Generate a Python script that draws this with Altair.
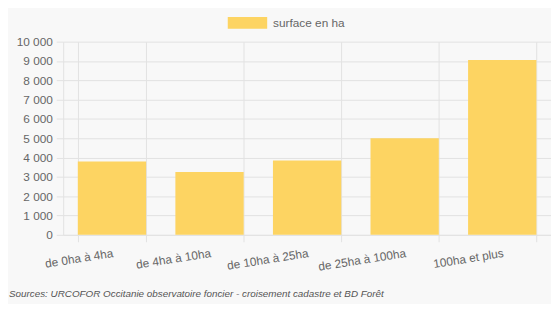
import altair as alt
import pandas as pd

categories = ["de 0ha à 4ha", "de 4ha à 10ha", "de 10ha à 25ha", "de 25ha à 100ha", "100ha et plus"]
surface = [3800, 3250, 3850, 5000, 9050]
series_name = "surface en ha"
source_text = ["Sources: URCOFOR Occitanie observatoire foncier - croisement cadastre et BD Forêt"]
y_ticks = list(range(0, 10001, 1000))

BAR = "#FDD462"
GRID = "#e2e2e2"
TXT = "#666666"
FONT = "Liberation Sans"

df = pd.DataFrame({"categorie": categories, "surface": surface, "serie": [series_name] * len(categories)})
src = pd.DataFrame({"t": source_text})

bars = alt.Chart(df).mark_bar(opacity=1).encode(
    x=alt.X(
        "categorie:N",
        sort=categories,
        scale=alt.Scale(paddingInner=0.3, paddingOuter=0.15),
        axis=alt.Axis(
            title=None, labelAngle=-9, labelAlign="right", labelBaseline="top",
            tickBand="extent", grid=True, gridColor=GRID, tickColor=GRID, tickSize=7,
            domainColor=GRID, labelPadding=6, labelFontSize=12, labelColor=TXT, labelFont=FONT,
        ),
    ),
    y=alt.Y(
        "surface:Q",
        scale=alt.Scale(domain=[0, 10000], nice=False),
        axis=alt.Axis(
            title=None, values=y_ticks, labelExpr="replace(format(datum.value, ','), ',', ' ')",
            grid=True, gridColor=GRID, tickColor=GRID, tickSize=7, domainColor=GRID,
            labelPadding=4, labelFontSize=12, labelColor=TXT, labelFont=FONT,
        ),
    ),
    color=alt.Color(
        "serie:N",
        scale=alt.Scale(range=[BAR]),
        legend=alt.Legend(
            title=None, orient="none", legendX=167, legendY=-39, padding=0,
            symbolType="M-1,-0.3H1V0.3H-1Z", symbolSize=1600, symbolStrokeWidth=0,
            symbolOpacity=1, labelFontSize=12, labelColor=TXT, labelFont=FONT, labelOffset=6,
        ),
    ),
)

source = alt.Chart(src).mark_text(
    align="left", baseline="middle", fontStyle="italic", fontSize=10, color="#555555", font=FONT
).encode(x=alt.value(-55), y=alt.value(256), text="t:N")

chart = alt.layer(bars, source).properties(
    width=495, height=196,
    autosize=alt.AutoSizeParams(type="none"),
    padding={"left": 56, "top": 32, "right": 0, "bottom": 68},
).configure(background="#f8f8f8").configure_view(stroke=None)

chart.save("out.html", embed_options={"renderer": "svg", "actions": False})
